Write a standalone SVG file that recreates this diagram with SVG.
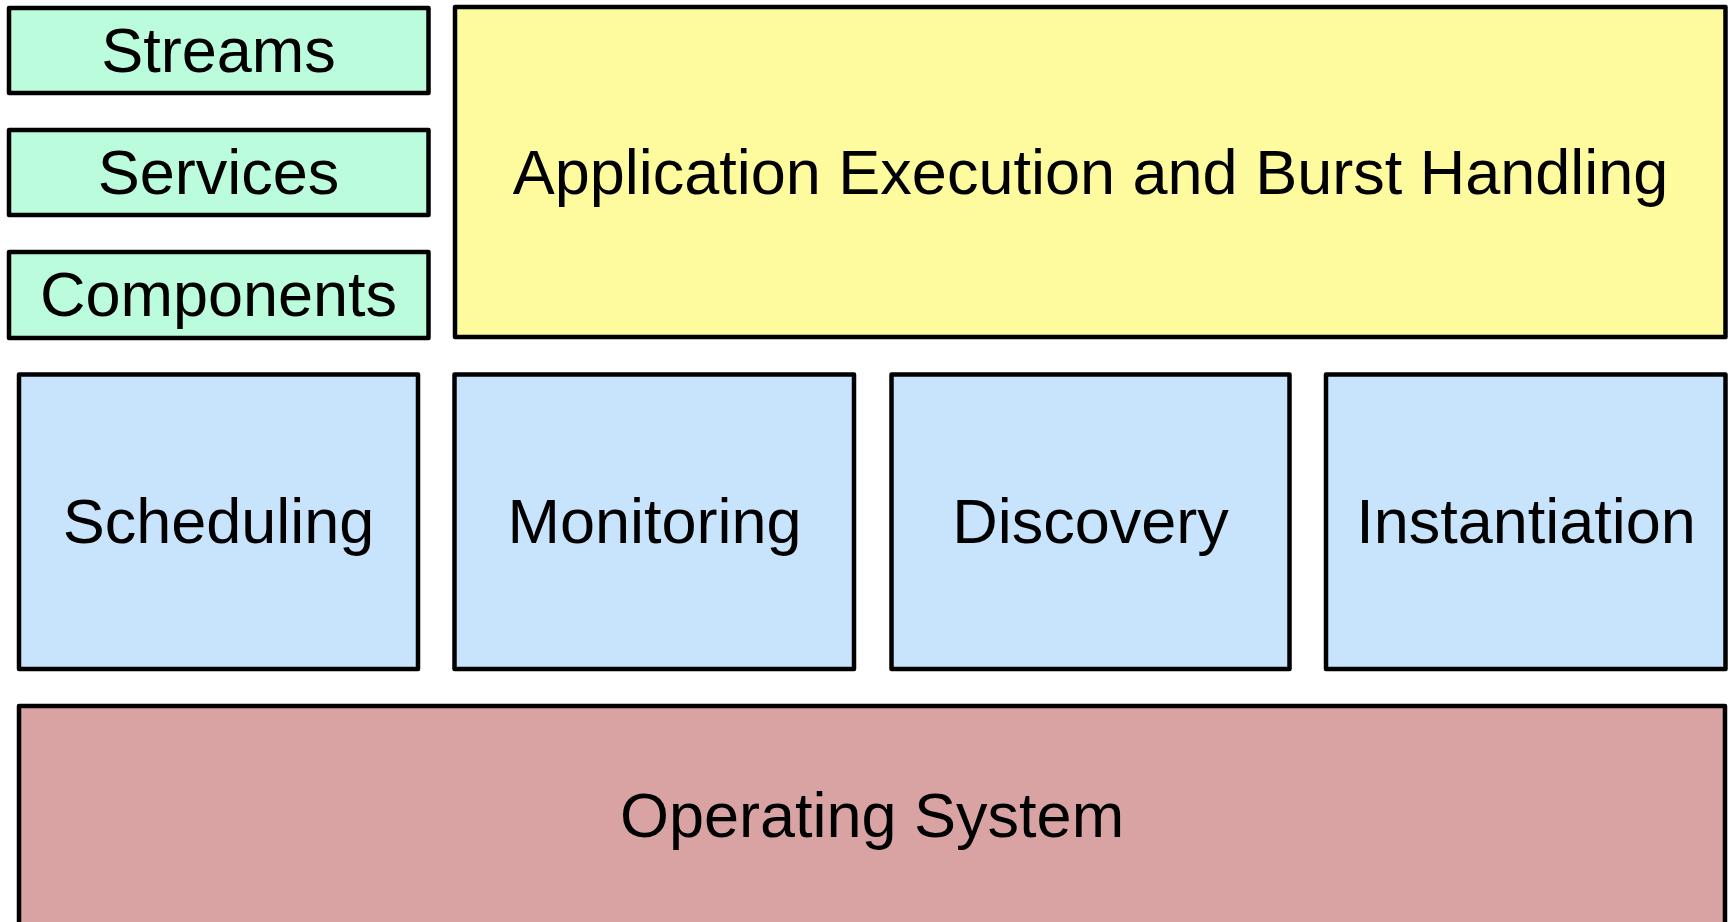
<svg xmlns="http://www.w3.org/2000/svg" width="1733" height="922" viewBox="0 0 1733 922">
  <style>
    .box { stroke: #000000; stroke-width: 4.5; stroke-linejoin: round; }
    .mint { fill: #BBFCDC; }
    .sun { fill: #FDFB9E; }
    .sky { fill: #C8E4FC; }
    .rose { fill: #D9A3A4; }
    .label { font-family: "Liberation Sans", Arial, Helvetica, sans-serif; font-size: 63px; fill: #000000; text-anchor: middle; }
  </style>
  <rect width="1733" height="922" fill="#FFFFFF"/>

  <!-- upper-left stack -->
  <g id="streams">
    <rect class="box mint" x="9" y="8" width="419.5" height="85"/>
    <text class="label" x="218.5" y="72">Streams</text>
  </g>
  <g id="services">
    <rect class="box mint" x="9" y="130" width="419.5" height="85"/>
    <text class="label" x="218.5" y="194">Services</text>
  </g>
  <g id="components">
    <rect class="box mint" x="9" y="252" width="419.5" height="86"/>
    <text class="label" x="218.5" y="316">Components</text>
  </g>

  <!-- application layer -->
  <g id="application">
    <rect class="box sun" x="455" y="7" width="1270.5" height="330"/>
    <text class="label" x="1090.5" y="194">Application Execution and Burst Handling</text>
  </g>

  <!-- middleware services row -->
  <g id="scheduling">
    <rect class="box sky" x="19" y="374.5" width="399" height="294.5"/>
    <text class="label" x="218.5" y="543">Scheduling</text>
  </g>
  <g id="monitoring">
    <rect class="box sky" x="454.5" y="374.5" width="399.5" height="294.5"/>
    <text class="label" x="654.5" y="543">Monitoring</text>
  </g>
  <g id="discovery">
    <rect class="box sky" x="891.5" y="374.5" width="398" height="294.5"/>
    <text class="label" x="1090.5" y="543">Discovery</text>
  </g>
  <g id="instantiation">
    <rect class="box sky" x="1326" y="374.5" width="399.5" height="294.5"/>
    <text class="label" x="1526" y="543">Instantiation</text>
  </g>

  <!-- base layer -->
  <g id="operating-system">
    <rect class="box rose" x="19" y="706" width="1706" height="222"/>
    <text class="label" x="872" y="837">Operating System</text>
  </g>

  <g id="connectors"/>
</svg>
